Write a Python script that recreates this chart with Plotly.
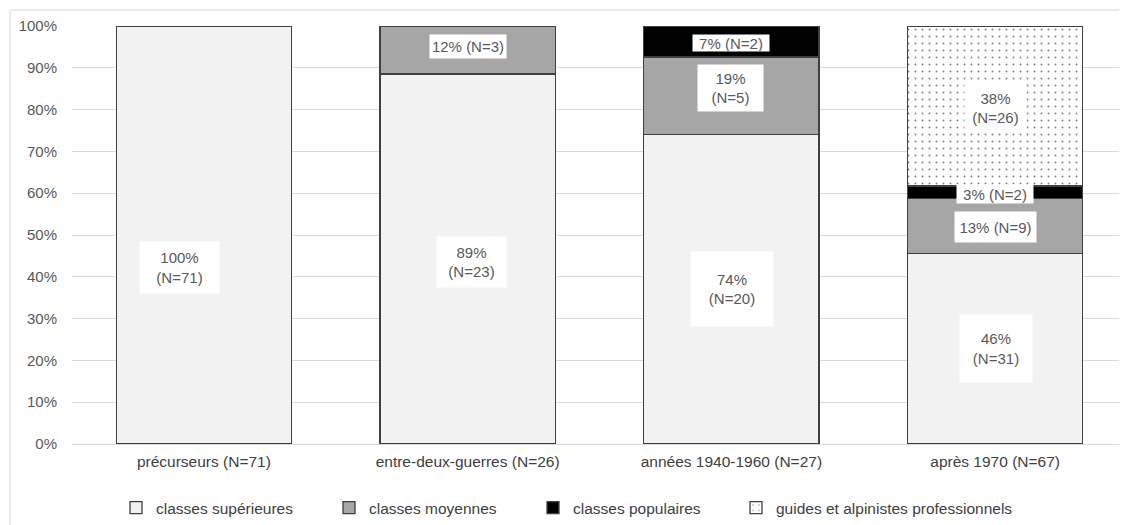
import plotly.graph_objects as go

# ---- data ----
categories = ["précurseurs (N=71)", "entre-deux-guerres (N=26)",
              "années 1940-1960 (N=27)", "après 1970 (N=67)"]
series_names = ["classes supérieures", "classes moyennes",
                "classes populaires", "guides et alpinistes professionnels"]
sup_pct = [100.0, 88.5, 74.1, 45.6]
moy_pct = [None, 11.5, 18.5, 13.2]
pop_pct = [None, None, 7.4, 2.9]
gui_pct = [None, None, None, 38.2]
sup_n = [71, 23, 20, 31]
moy_n = [None, 3, 5, 9]
pop_n = [None, None, 2, 2]
gui_n = [None, None, None, 26]
sup_lbl = [100, 89, 74, 46]
moy_lbl = [None, 12, 19, 13]
pop_lbl = [None, None, 7, 3]
gui_lbl = [None, None, None, 38]
y_ticks = [0, 10, 20, 30, 40, 50, 60, 70, 80, 90, 100]
y_tick_text = [f"{v}%" for v in y_ticks]

FONT = "Liberation Sans, Arial, sans-serif"
EDGE = "#404040"

fig = go.Figure()
fill_colors = ["#f2f2f2", "#a6a6a6", "#000000", "#ffffff"]
legend_ids = ["legend", "legend2", "legend3", "legend4"]
values = [sup_pct, moy_pct, pop_pct, gui_pct]
for i, (name, vals) in enumerate(zip(series_names, values)):
    marker = dict(color=fill_colors[i], line=dict(color=EDGE, width=1.3))
    if i == 3:
        marker["pattern"] = dict(shape=".", fgcolor="#000000", bgcolor="#ffffff",
                                 size=7, solidity=0.06, fillmode="overlay")
    fig.add_trace(go.Bar(x=categories, y=vals, name=name, marker=marker,
                         legend=legend_ids[i], showlegend=True,
                         hoverinfo="skip"))

# ---- data labels (white boxes) ----
# (series index, category index, label centre y in %, x shift px, box w, box h, two lines)
label_specs = [
    (0, 0, 42.2, -24, 79, 51, True),
    (0, 1, 43.5, 4, 69, 50, True),
    (1, 1, 95.1, 0, 76, 23, False),
    (0, 2, 37.1, 1, 82, 74, True),
    (1, 2, 85.2, -1, 65, 46, True),
    (2, 2, 95.9, 0, 76, 16, False),
    (0, 3, 22.8, 1, 72, 67, True),
    (1, 3, 51.9, 0, 81, 30, False),
    (2, 3, 59.8, 0, 76, 18, False),
    (3, 3, 80.5, 0, 61, 48, True),
]
lbls = [sup_lbl, moy_lbl, pop_lbl, gui_lbl]
ns = [sup_n, moy_n, pop_n, gui_n]
for s, c, yv, xs, w, h, two in label_specs:
    sep = "<br>" if two else " "
    txt = f"{lbls[s][c]}%{sep}(N={ns[s][c]})"
    fig.add_annotation(x=categories[c], y=yv, xref="x", yref="y", text=txt,
                       showarrow=False, xshift=xs, width=w, height=h,
                       bgcolor="#ffffff", borderpad=0, align="center",
                       valign="middle",
                       font=dict(family=FONT, size=15, color="#595959"))

# outer chart frame (partially cropped in the reference)
fig.add_shape(type="rect", xref="paper", yref="paper",
              x0=(10 - 72) / 1055, x1=1.05, y0=-0.4, y1=(444 - 10) / 418,
              line=dict(color="#d9d9d9", width=1), fillcolor="rgba(0,0,0,0)",
              layer="below")

# one legend per series, placed where each entry sits in the reference
legend_px = [116, 329, 533, 736]
legend_cfg = {}
for lid, px in zip(legend_ids, legend_px):
    legend_cfg[lid] = dict(orientation="h", x=(px - 72) / 1055, xanchor="left",
                           y=(444 - 508) / 418, yanchor="middle",
                           bgcolor="rgba(0,0,0,0)",
                           font=dict(family=FONT, size=15.5, color="#404040"),
                           itemclick=False, itemdoubleclick=False)

fig.update_layout(
    width=1119, height=517,
    margin=dict(l=64, r=0, t=18, b=81),
    barmode="stack", bargap=0.336,
    plot_bgcolor="#ffffff", paper_bgcolor="#ffffff",
    font=dict(family=FONT, size=15, color="#404040"),
    showlegend=True,
    **legend_cfg,
)
fig.update_xaxes(showgrid=False, showline=False, zeroline=False, ticks="",
                 tickfont=dict(family=FONT, size=15.5, color="#404040"),
                 ticklabelstandoff=6)
fig.update_yaxes(range=[0, 100], tickvals=y_ticks, ticktext=y_tick_text,
                 showgrid=True, gridcolor="#d9d9d9", gridwidth=1,
                 zeroline=True, zerolinecolor="#d9d9d9", zerolinewidth=1,
                 showline=False, ticks="",
                 tickfont=dict(family=FONT, size=15, color="#595959"),
                 ticklabelstandoff=14)

fig.write_html("out.html")
